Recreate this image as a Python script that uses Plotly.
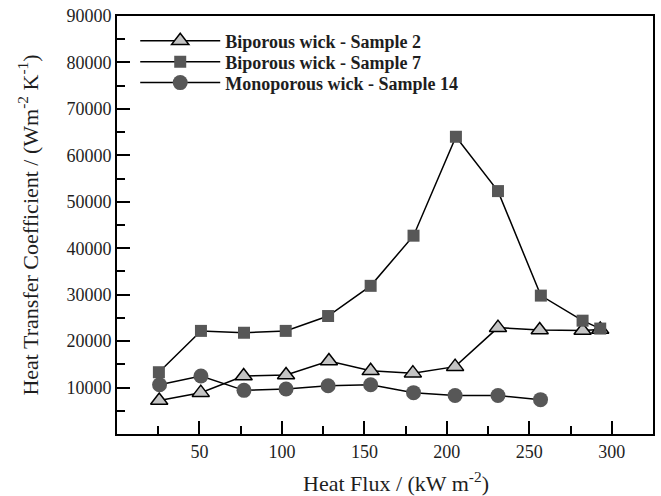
import plotly.graph_objects as go

# Data
x_s2 = [25.6, 50.8, 76.8, 102.5, 128.5, 153.8, 179.4, 205.0, 231.0, 256.3, 282.3, 293.0]
y_s2 = [7200, 8900, 12500, 12700, 15700, 13600, 13100, 14500, 22900, 22400, 22300, 22500]

x_s7 = [25.4, 50.9, 77.0, 102.3, 128.0, 153.8, 179.8, 205.5, 231.0, 257.0, 282.3, 293.0]
y_s7 = [13300, 22200, 21800, 22200, 25400, 31900, 42700, 64000, 52300, 29800, 24400, 22700]

x_s14 = [25.8, 50.9, 77.0, 102.5, 128.0, 153.8, 179.8, 205.0, 231.0, 256.8]
y_s14 = [10600, 12500, 9400, 9700, 10400, 10600, 8900, 8300, 8300, 7400]

names = ["Biporous wick - Sample 2", "Biporous wick - Sample 7", "Monoporous wick - Sample 14"]

x_ticks = [50, 100, 150, 200, 250, 300]
y_ticks = [10000, 20000, 30000, 40000, 50000, 60000, 70000, 80000, 90000]

x_title = "Heat Flux / (kW m<sup>-2</sup>)"
y_title = "Heat Transfer Coefficient / (Wm<sup>-2</sup> K<sup>-1</sup>)"

FONT = "Liberation Serif"
TXT = "#1e1e1e"

fig = go.Figure()
fig.add_trace(go.Scatter(
    x=x_s2, y=y_s2, mode="lines+markers", name=names[0], legend="legend",
    line=dict(color="black", width=1.5),
    marker=dict(symbol="triangle-up", size=15, color="#c4c4c4",
                line=dict(color="black", width=1.5)),
))
fig.add_trace(go.Scatter(
    x=x_s7, y=y_s7, mode="lines+markers", name=names[1], legend="legend2",
    line=dict(color="black", width=1.5),
    marker=dict(symbol="square", size=12, color="#575757", line=dict(width=0)),
))
fig.add_trace(go.Scatter(
    x=x_s14, y=y_s14, mode="lines+markers", name=names[2], legend="legend3",
    line=dict(color="black", width=1.5),
    marker=dict(symbol="circle", size=15, color="#575757", line=dict(width=0)),
))


def leg(ypos):
    return dict(
        x=0.034, y=ypos, xanchor="left", yanchor="middle",
        bgcolor="rgba(0,0,0,0)", borderwidth=0,
        font=dict(family=FONT, size=18, color=TXT, weight="bold"),
        itemwidth=80,
    )


fig.update_layout(
    width=661, height=496,
    margin=dict(l=117, r=6, t=16, b=62),
    paper_bgcolor="white", plot_bgcolor="white",
    font=dict(family=FONT, color=TXT, size=16),
    showlegend=True,
    legend=leg(0.940),
    legend2=leg(0.890),
    legend3=leg(0.840),
    xaxis=dict(
        range=[0, 325], tickvals=x_ticks, ticktext=[str(v) for v in x_ticks],
        ticks="inside", ticklen=13, tickwidth=2, tickcolor="black",
        minor=dict(dtick=25, tick0=0, ticks="inside", ticklen=8, tickwidth=2, tickcolor="black"),
        showline=True, linewidth=2, linecolor="black", mirror=True,
        showgrid=False, zeroline=False,
        tickfont=dict(family=FONT, size=18, color=TXT),
    ),
    yaxis=dict(
        range=[0, 90000], tickvals=y_ticks, ticktext=[str(v) for v in y_ticks],
        ticks="inside", ticklen=13, tickwidth=2, tickcolor="black",
        minor=dict(dtick=5000, tick0=0, ticks="inside", ticklen=8, tickwidth=2, tickcolor="black"),
        showline=True, linewidth=2, linecolor="black", mirror=True,
        showgrid=False, zeroline=False,
        tickfont=dict(family=FONT, size=18, color=TXT),
        title=dict(text=y_title, standoff=22,
                   font=dict(family=FONT, size=22, color=TXT)),
    ),
    annotations=[dict(
        text=x_title, xref="paper", yref="paper", x=0.52, y=-0.115,
        xanchor="center", yanchor="middle", showarrow=False,
        font=dict(family=FONT, size=22, color=TXT),
    )],
)

fig.write_html("out.html")
